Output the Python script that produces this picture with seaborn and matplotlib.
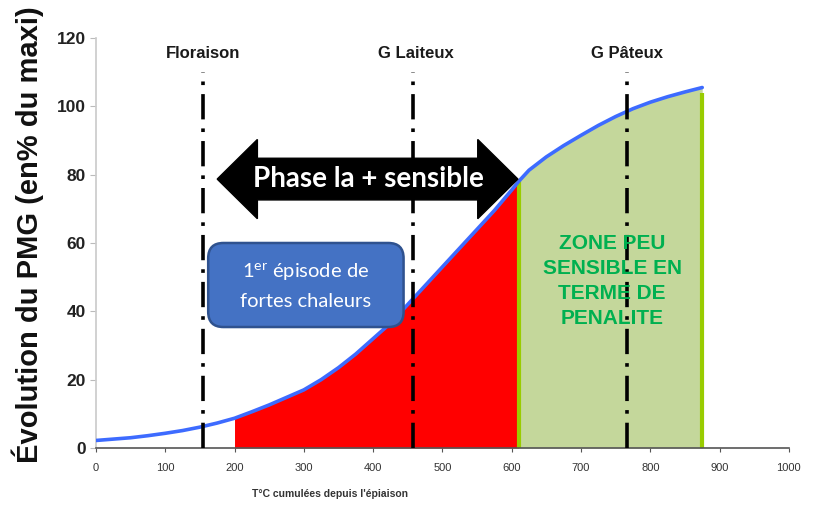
import numpy as np
import pandas as pd
import seaborn as sns
import matplotlib.pyplot as plt
from matplotlib.patches import Polygon, FancyBboxPatch

# courbe d'évolution du PMG
temp = [0, 25, 50, 75, 100, 125, 150, 175, 200, 225, 250, 275, 300, 325, 350,
        375, 400, 425, 450, 475, 500, 525, 550, 575, 600, 610, 625, 650, 675,
        700, 725, 750, 775, 800, 825, 850, 875]
pmg = [2.2, 2.6, 3.0, 3.6, 4.3, 5.1, 6.1, 7.3, 8.7, 10.6, 12.6, 14.8, 17.0, 20.0,
       23.5, 27.5, 32.0, 36.5, 42.0, 47.5, 53.0, 58.5, 64.0, 69.5, 75.5, 78.0,
       81.3, 85.2, 88.5, 91.5, 94.4, 97.0, 99.3, 101.2, 102.8, 104.2, 105.5]

stades = ['Floraison', 'G Laiteux', 'G Pâteux']
stades_x = [155, 457, 766]
stades_lbl_x = [155, 462, 766]

zone_sensible = (200, 610)
zone_peu = (610, 875)

df = pd.DataFrame({'temp': temp, 'pmg': pmg})

sns.set_theme(style='ticks')
plt.rcParams['font.family'] = ['Liberation Sans', 'DejaVu Sans']

fig = plt.figure(figsize=(8.2, 5.07), dpi=100)
ax = fig.add_axes([0.117, 0.1164, 0.845, 0.8087])

red = df[(df.temp >= zone_sensible[0]) & (df.temp <= zone_sensible[1])]
green = df[(df.temp >= zone_peu[0]) & (df.temp <= zone_peu[1])]
ax.fill_between(red.temp, 0, red.pmg, color='#ff0000', lw=0, zorder=1)
ax.fill_between(green.temp, 0, green.pmg, color='#c4d79b', lw=0, zorder=1)
ax.vlines([green.temp.iloc[0], green.temp.iloc[-1]], 0,
          [green.pmg.iloc[0], green.pmg.iloc[-1] - 1.5],
          color='#99cc00', lw=3, zorder=2)

for x, lx, name in zip(stades_x, stades_lbl_x, stades):
    ax.vlines(x, 0, 110, color='black', lw=2.6, linestyles=(0, (7, 2.5, 1, 2.5)), zorder=4)
    ax.text(lx, 115.5, name, ha='center', va='center', fontsize=12,
            fontweight='bold', color='#1a1a1a', zorder=5)

sns.lineplot(data=df, x='temp', y='pmg', color='#3d6bff', lw=2.6, ax=ax, zorder=3)

# flèche "Phase la + sensible"
x0, x1, yc = 175, 609, 78.7
body, head, hl = 6.1, 11.6, 58
arrow = Polygon([(x0, yc), (x0 + hl, yc + head), (x0 + hl, yc + body),
                 (x1 - hl, yc + body), (x1 - hl, yc + head), (x1, yc),
                 (x1 - hl, yc - head), (x1 - hl, yc - body),
                 (x0 + hl, yc - body), (x0 + hl, yc - head)],
                closed=True, color='black', zorder=5)
ax.add_patch(arrow)
ax.text(393, yc, 'Phase la + sensible', ha='center', va='center', color='white',
        fontsize=20, fontweight='bold', family=['Lato', 'DejaVu Sans'], zorder=6)

# encadré bleu
box = FancyBboxPatch((162, 35.4), 282, 24.6,
                     boxstyle='round,pad=0,rounding_size=22', mutation_aspect=0.203,
                     fc='#4472c4', ec='#2f528f', lw=1.8, zorder=6)
ax.add_patch(box)
ax.text(303, 51.5, '1$^{\\mathregular{er}}$ épisode de', ha='center', va='center',
        color='white', fontsize=14.5, family=['Lato', 'DejaVu Sans'], zorder=7)
ax.text(303, 43.0, 'fortes chaleurs', ha='center', va='center',
        color='white', fontsize=14.5, family=['Lato', 'DejaVu Sans'], zorder=7)

ax.text(745, 49, 'ZONE PEU\nSENSIBLE EN\nTERME DE\nPENALITE', ha='center', va='center',
        color='#00b050', fontsize=15, fontweight='bold', linespacing=1.4, zorder=6)

ax.set_xlim(0, 1000)
ax.set_ylim(0, 120)
ax.set_xticks(range(0, 1001, 100))
ax.set_yticks(range(0, 121, 20))
ax.tick_params(axis='y', labelsize=12.5, colors='#222222', length=4, width=0.8)
ax.tick_params(axis='x', labelsize=8, colors='#333333', length=3, width=0.8, pad=8)
for lbl in ax.get_yticklabels():
    lbl.set_fontweight('bold')
ax.tick_params(axis='y', color='#bbbbbb')
ax.tick_params(axis='x', color='#555555')
sns.despine(ax=ax)
ax.spines['left'].set_color('#cccccc')
ax.spines['bottom'].set_color('#555555')
ax.spines['bottom'].set_linewidth(1.2)

ax.set_xlabel("T°C cumulées depuis l'épiaison", fontsize=7.5, fontweight='bold', color='#333333')
ax.xaxis.set_label_coords(0.338, -0.1)
ax.set_ylabel('Évolution du PMG (en% du maxi)', fontsize=21, fontweight='bold', color='#111111')
ax.yaxis.set_label_coords(-0.075, 0.52)

plt.savefig('out.png', dpi=100)
